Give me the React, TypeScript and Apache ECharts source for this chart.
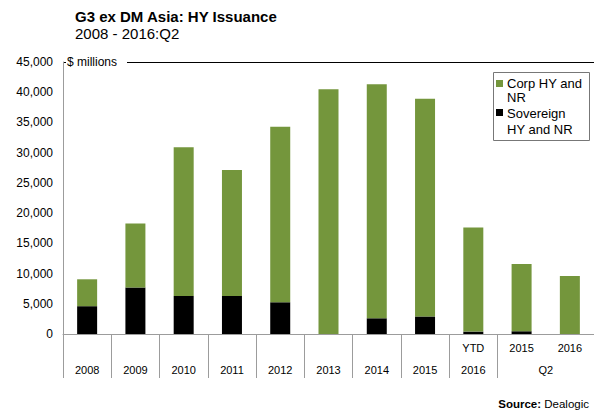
import React, { useEffect, useRef } from "react";
import * as echarts from "echarts";

const categories = ["2008", "2009", "2010", "2011", "2012", "2013", "2014", "2015", "YTD 2016", "Q2 2015", "Q2 2016"];
const labelTop = ["", "", "", "", "", "", "", "", "YTD", "2015", "2016"];
const labelBottom = ["2008", "2009", "2010", "2011", "2012", "2013", "2014", "2015", "2016", "", ""];
const groupLabel = "Q2";
const sovereign = [4600, 7700, 6300, 6300, 5250, 0, 2600, 2900, 400, 450, 0];
const corp = [4450, 10600, 24600, 20850, 29050, 40500, 38700, 36000, 17200, 11150, 9600];
const yTicks = [0, 5000, 10000, 15000, 20000, 25000, 30000, 35000, 40000, 45000];

const FONT = "Arial, Liberation Sans, sans-serif";
const GREEN = "#74963c";
const GREY = "#9c9c9c";

export default function App() {
  const ref = useRef<HTMLDivElement>(null);
  useEffect(() => {
    document.body.style.margin = "0";
    const chart = echarts.init(ref.current!, null, { renderer: "svg" });
    const option: any = {
      animation: false,
      backgroundColor: "#fff",
      textStyle: { fontFamily: FONT },
      grid: { left: 63, top: 62, width: 536, bottom: 78, containLabel: false },
      xAxis: {
        type: "category",
        data: categories,
        axisLine: { show: true, lineStyle: { color: GREY, width: 1 } },
        axisTick: {
          show: true,
          length: 44,
          interval: (i: number) => i !== 10,
          lineStyle: { color: GREY, width: 1 },
        },
        axisLabel: {
          interval: 0,
          margin: 3,
          fontSize: 11,
          lineHeight: 22,
          color: "#000",
          fontFamily: FONT,
          formatter: (_v: string, i: number) => labelTop[i] + "\n" + labelBottom[i],
        },
      },
      yAxis: {
        type: "value",
        min: 0,
        max: yTicks[yTicks.length - 1],
        interval: 5000,
        axisLine: { show: true, lineStyle: { color: GREY, width: 1 } },
        axisTick: { show: false },
        splitLine: { show: false },
        axisLabel: {
          margin: 10,
          fontSize: 12,
          color: "#000",
          fontFamily: FONT,
          formatter: (v: number) => v.toLocaleString("en-US"),
        },
      },
      series: [
        {
          name: "Sovereign HY and NR",
          type: "bar",
          stack: "a",
          data: sovereign,
          barWidth: 20,
          itemStyle: { color: "#000" },
        },
        {
          name: "Corp HY and NR",
          type: "bar",
          stack: "a",
          data: corp,
          barWidth: 20,
          itemStyle: { color: GREEN },
        },
      ],
    };
    chart.setOption(option);
    const x1 = chart.convertToPixel({ xAxisIndex: 0 }, categories[9]) as number;
    const x2 = chart.convertToPixel({ xAxisIndex: 0 }, categories[10]) as number;
    const textStyle = (t: string, size: number, weight = "normal") => ({
      text: t,
      fontSize: size,
      fontWeight: weight,
      fontFamily: FONT,
      fill: "#000",
    });
    chart.setOption({
      graphic: [
        {
          type: "text",
          left: 75,
          top: 9,
          style: {
            text: "{t|G3 ex DM Asia: HY Issuance}\n{s|2008 - 2016:Q2}",
            fontFamily: FONT,
            fill: "#000",
            rich: {
              t: { fontSize: 15, fontWeight: "bold", lineHeight: 18, fontFamily: FONT },
              s: { fontSize: 15, lineHeight: 15, fontFamily: FONT },
            },
          },
        },
        {
          type: "text",
          x: 67,
          y: 62,
          style: { ...textStyle("$ millions", 12), verticalAlign: "middle" },
        },
        { type: "line", shape: { x1: 63, y1: 62.5, x2: 66, y2: 62.5 }, style: { stroke: "#000", lineWidth: 1 } },
        { type: "line", shape: { x1: 127, y1: 62.5, x2: 594, y2: 62.5 }, style: { stroke: "#000", lineWidth: 1 } },
        {
          type: "text",
          x: (x1 + x2) / 2,
          y: 370,
          style: { ...textStyle(groupLabel, 11), align: "center", verticalAlign: "middle" },
        },
        {
          type: "rect",
          shape: { x: 493.5, y: 72.5, width: 96, height: 68 },
          style: { fill: "#fff", stroke: "#777", lineWidth: 1 },
        },
        { type: "rect", shape: { x: 496, y: 80, width: 7, height: 7 }, style: { fill: GREEN } },
        {
          type: "text",
          top: 76,
          left: 507,
          style: { ...textStyle("Corp HY and\nNR", 13), lineHeight: 14 },
        },
        { type: "rect", shape: { x: 496, y: 109, width: 7, height: 7 }, style: { fill: "#000" } },
        {
          type: "text",
          top: 105,
          left: 507,
          style: { ...textStyle("Sovereign\nHY and NR", 13), lineHeight: 16 },
        },
        {
          type: "text",
          right: 5,
          top: 398,
          style: {
            text: "{b|Source:} Dealogic",
            fontSize: 11.5,
            fontFamily: FONT,
            fill: "#000",
            rich: { b: { fontWeight: "bold", fontSize: 11.5, fontFamily: FONT } },
          },
        },
      ],
    });
    return () => chart.dispose();
  }, []);
  return (
    <div
      ref={ref}
      style={{ position: "fixed", left: 0, top: 0, width: 594, height: 412 }}
    />
  );
}
